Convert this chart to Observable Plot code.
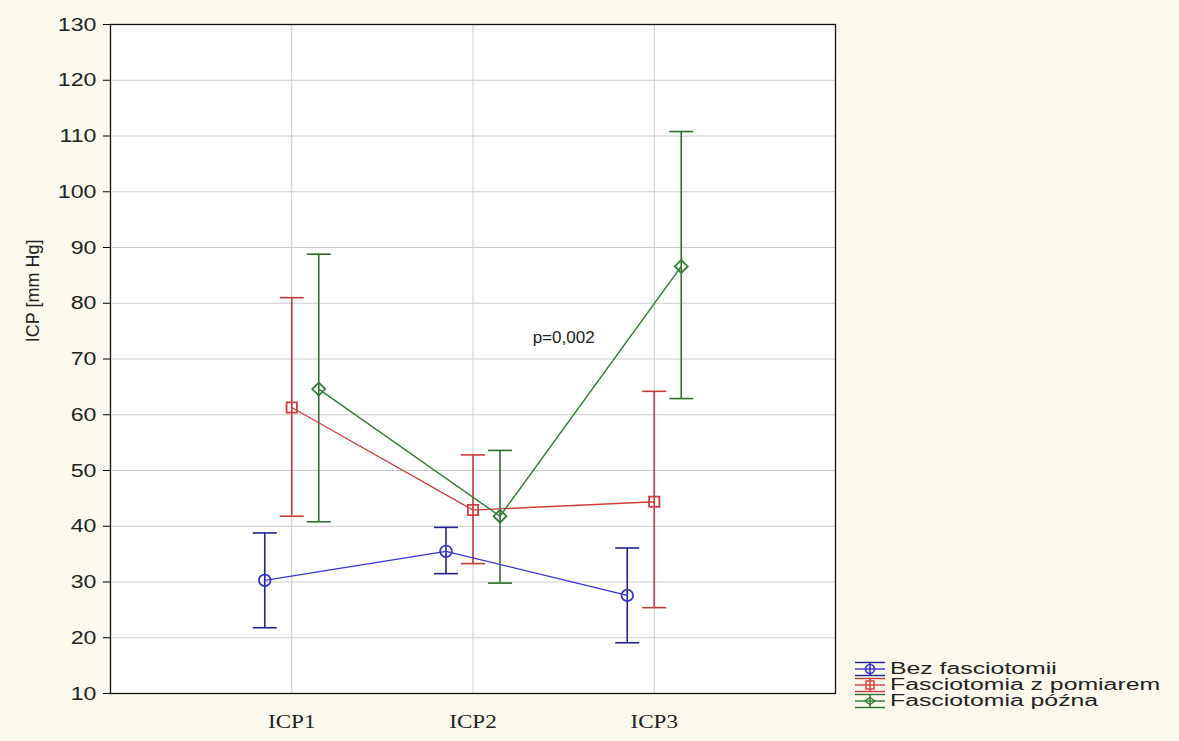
<!DOCTYPE html>
<html>
<head>
<meta charset="utf-8">
<script src="https://cdn.jsdelivr.net/npm/d3@7"></script>
<script src="https://cdn.jsdelivr.net/npm/@observablehq/plot@0.6"></script>
<style>
  html, body { margin: 0; padding: 0; background: #fcf9ee; }
  #wrap { position: relative; width: 1179px; height: 741px; overflow: hidden; }
  #legend { position: absolute; left: 854px; top: 661px; font-family: "Liberation Sans", Arial, sans-serif; font-size: 16px; color: #222; line-height: 16px; }
  #legend .row { display: flex; align-items: center; height: 16px; white-space: nowrap; }
  #legend svg { margin-right: 4px; flex: none; }
  #legend span { display: inline-block; transform: scaleX(1.55); transform-origin: left center; }
</style>
</head>
<body>
<div id="wrap"><div id="chart"></div><div id="legend"></div></div>
<script>
// ---- data ----
const categories = ["ICP1", "ICP2", "ICP3"];
const seriesNames = ["Bez fasciotomii", "Fasciotomia z pomiarem", "Fasciotomia późna"];
const bezMean  = [30.3, 35.5, 27.6];
const bezLow   = [21.8, 31.5, 19.1];
const bezHigh  = [38.8, 39.8, 36.1];
const pomMean  = [61.3, 42.9, 44.4];
const pomLow   = [41.8, 33.3, 25.4];
const pomHigh  = [81.0, 52.8, 64.2];
const pozMean  = [64.6, 41.8, 86.6];
const pozLow   = [40.8, 29.8, 62.9];
const pozHigh  = [88.8, 53.6, 110.8];
const yTicks = [10, 20, 30, 40, 50, 60, 70, 80, 90, 100, 110, 120, 130];
const yLabel = "ICP [mm Hg]";
const annotations = [{label: "p=0,002", x: 2.5, y: 73.8}];

// ---- styles ----
const styles = [
  {line: "#3535d4", bar: "#22228f", symbol: "circle", dx: -27},
  {line: "#d43c3c", bar: "#c83a3a", symbol: "square", dx: 0},
  {line: "#2f7f2f", bar: "#2e6e2e", symbol: "diamond2", dx: 27}
];
const means = [bezMean, pomMean, pozMean];
const lows = [bezLow, pomLow, pozLow];
const highs = [bezHigh, pomHigh, pozHigh];

const series = seriesNames.map((name, s) =>
  categories.map((c, i) => ({series: name, x: i + 1, mean: means[s][i], low: lows[s][i], high: highs[s][i]}))
);

const capSymbol = {
  draw(context, size) {
    const w = Math.sqrt(size / Math.PI);
    context.moveTo(-w, 0);
    context.lineTo(w, 0);
  }
};

const marks = [
  Plot.frame({fill: "white"}),
  Plot.gridY(yTicks, {stroke: "#cccccc", strokeOpacity: 1}),
  Plot.gridX([1, 2, 3], {stroke: "#cccccc", strokeOpacity: 1}),
];
series.forEach((data, s) => {
  const st = styles[s];
  marks.push(
    Plot.ruleX(data, {x: "x", y1: "low", y2: "high", stroke: st.bar, strokeWidth: 1.6, dx: st.dx}),
    Plot.dot(data, {x: "x", y: "low", symbol: capSymbol, r: 12, stroke: st.bar, strokeWidth: 1.6, dx: st.dx}),
    Plot.dot(data, {x: "x", y: "high", symbol: capSymbol, r: 12, stroke: st.bar, strokeWidth: 1.6, dx: st.dx}),
  );
});
series.forEach((data, s) => {
  const st = styles[s];
  marks.push(
    Plot.line(data, {x: "x", y: "mean", stroke: st.line, strokeWidth: 1.4, dx: st.dx}),
    Plot.dot(data, {x: "x", y: "mean", symbol: st.symbol, r: 5.8, stroke: st.line, strokeWidth: 1.8, fill: "none", dx: st.dx})
  );
});
marks.push(
  Plot.text(annotations, {x: "x", y: "y", text: "label", fontSize: 17, fill: "#222", fontFamily: "Liberation Sans, Arial, sans-serif"}),
  Plot.frame({stroke: "#111", strokeWidth: 1.3}),
  Plot.axisY(yTicks, {className: "stretch", tickSize: 7, tickPadding: 7, fontSize: 19, fill: "#222", label: null, fontFamily: "Liberation Sans, Arial, sans-serif"}),
  Plot.axisX([1, 2, 3], {className: "stretch", tickSize: 0, tickPadding: 21, fontSize: 19, fill: "#222", label: null, tickFormat: (d) => categories[d - 1], fontFamily: "Liberation Serif, Times New Roman, serif"}),
  Plot.text([{label: yLabel, y: 73}], {y: "y", text: "label", frameAnchor: "left", dx: -77, rotate: -90, fontSize: 18, fill: "#222", fontFamily: "Liberation Sans, Arial, sans-serif"})
);

const chart = Plot.plot({
  width: 1179,
  height: 741,
  marginLeft: 110,
  marginRight: 344,
  marginTop: 24,
  marginBottom: 48,
  x: {type: "linear", domain: [0, 4], axis: null},
  y: {domain: [10, 130], axis: null},
  style: {background: "transparent", fontFamily: "Liberation Sans, Arial, sans-serif"},
  marks
});
document.getElementById("chart").appendChild(chart);

// slight horizontal stretch of the tick labels, as in the reference
chart.querySelectorAll("g.stretch text").forEach((el) => {
  const t = el.getAttribute("transform");
  if (t) el.setAttribute("transform", t + " scale(1.22,1)");
});

// ---- legend ----
const legend = document.getElementById("legend");
const iconMarker = (s) => {
  const st = styles[s];
  if (st.symbol === "circle") return `<circle cx="16" cy="8" r="4.5" fill="none" stroke="${st.line}" stroke-width="1.6"/>`;
  if (st.symbol === "square") return `<rect x="12" y="4" width="8" height="8" fill="none" stroke="${st.line}" stroke-width="1.4"/>`;
  return `<path d="M11,8 L16,4.5 L21,8 L16,11.5 Z" fill="none" stroke="${st.line}" stroke-width="1.4"/>`;
};
seriesNames.forEach((name, s) => {
  const st = styles[s];
  const row = document.createElement("div");
  row.className = "row";
  row.innerHTML = `<svg width="32" height="16" viewBox="0 0 32 16">
    <line x1="1" x2="31" y1="1.5" y2="1.5" stroke="${st.bar}" stroke-width="1.4"/>
    <line x1="1" x2="31" y1="14.5" y2="14.5" stroke="${st.bar}" stroke-width="1.4"/>
    <line x1="16" x2="16" y1="1.5" y2="14.5" stroke="${st.bar}" stroke-width="1.4"/>
    <line x1="1" x2="31" y1="8" y2="8" stroke="${st.line}" stroke-width="1.4"/>
    ${iconMarker(s)}
  </svg><span></span>`;
  row.querySelector("span").textContent = name;
  legend.appendChild(row);
});
</script>
</body>
</html>
